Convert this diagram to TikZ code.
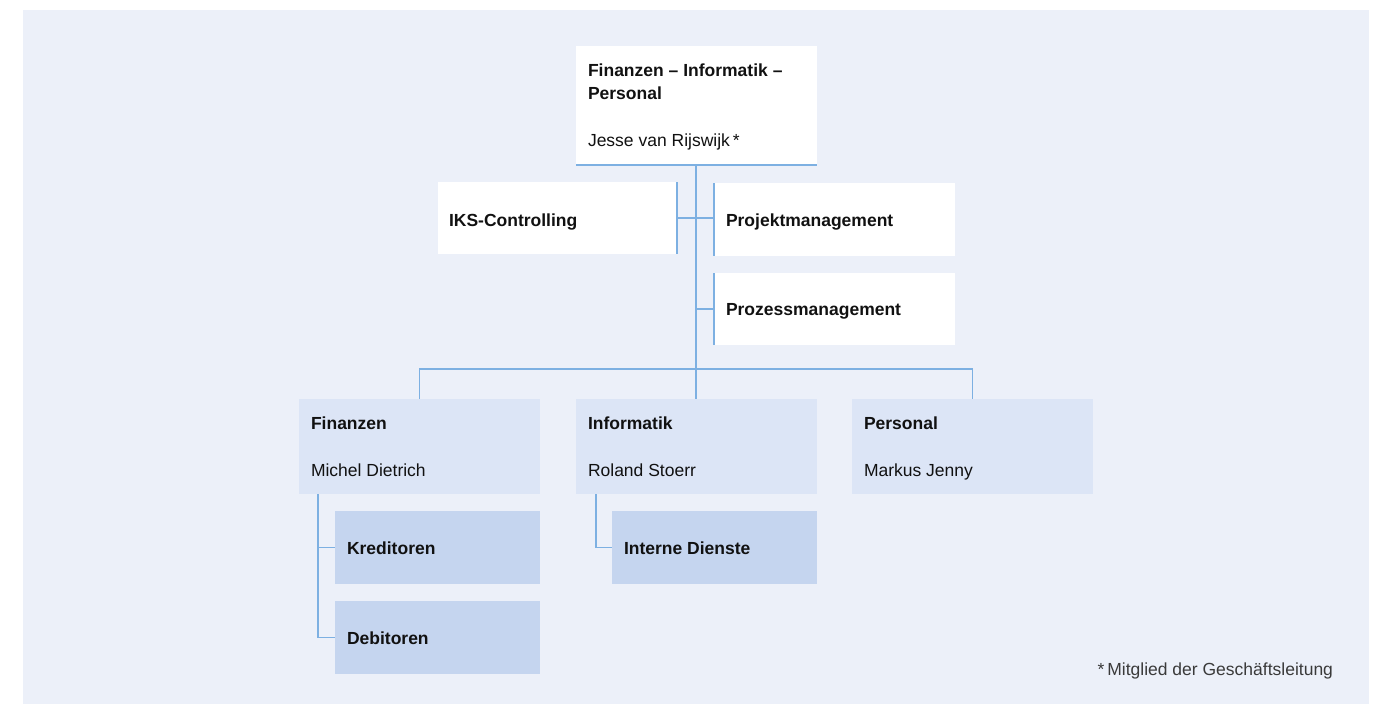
\documentclass[tikz,border=0pt]{standalone}
\usepackage{fontspec}
\setmainfont{Liberation Sans}
\definecolor{bgc}{HTML}{ECF0F9}
\definecolor{lvA}{HTML}{DCE5F6}
\definecolor{lvB}{HTML}{C5D5EF}
\definecolor{lnc}{HTML}{7DB0E2}
\definecolor{txc}{HTML}{111111}
\definecolor{ftc}{HTML}{3A3A3A}
\begin{document}
\begin{tikzpicture}[x=1pt,y=-1pt,
  box/.style={rectangle, draw=none, inner sep=0pt, outer sep=0pt, anchor=north west},
  lbl/.style={inner sep=0pt, outer sep=0pt, anchor=base west, text=txc, font=\fontsize{17.5}{21}\selectfont},
  conn/.style={draw=lnc, line width=1.6pt}]
\useasboundingbox (0,0) rectangle (1386,704);
\fill[bgc] (23,10) rectangle (1369,704);

% boxes
\node[box, fill=white, minimum width=241pt, minimum height=119pt] (top) at (576,46) {};
\node[box, fill=white, minimum width=239pt, minimum height=72pt] (iks) at (438,182) {};
\node[box, fill=white, minimum width=241pt, minimum height=73pt] (proj) at (714,183) {};
\node[box, fill=white, minimum width=241pt, minimum height=72pt] (proz) at (714,273) {};
\node[box, fill=lvA, minimum width=241pt, minimum height=95pt] (fin) at (299,399) {};
\node[box, fill=lvA, minimum width=241pt, minimum height=95pt] (inf) at (576,399) {};
\node[box, fill=lvA, minimum width=241pt, minimum height=95pt] (per) at (852,399) {};
\node[box, fill=lvB, minimum width=205pt, minimum height=73pt] (kred) at (335,511) {};
\node[box, fill=lvB, minimum width=205pt, minimum height=73pt] (deb) at (335,601) {};
\node[box, fill=lvB, minimum width=205pt, minimum height=73pt] (int) at (612,511) {};

% labels
\node[lbl] (topA) at (588,76) {\bfseries Finanzen – Informatik –};
\node[lbl] (topB) at (588,99) {\bfseries Personal};
\node[lbl] (topC) at (588,146) {Jesse van Rijswijk\,*};
\node[lbl] (iksT) at (449,226) {\bfseries IKS-Controlling};
\node[lbl] (projT) at (726,226) {\bfseries Projektmanagement};
\node[lbl] (prozT) at (726,315) {\bfseries Prozessmanagement};
\node[lbl] (finA) at (311,429) {\bfseries Finanzen};
\node[lbl] (finB) at (311,476) {Michel Dietrich};
\node[lbl] (infA) at (588,429) {\bfseries Informatik};
\node[lbl] (infB) at (588,476) {Roland Stoerr};
\node[lbl] (perA) at (864,429) {\bfseries Personal};
\node[lbl] (perB) at (864,476) {Markus Jenny};
\node[lbl] (kredT) at (347,554) {\bfseries Kreditoren};
\node[lbl] (debT) at (347,644) {\bfseries Debitoren};
\node[lbl] (intT) at (624,554) {\bfseries Interne Dienste};
\node[lbl, anchor=base east, text=ftc] (note) at (1333,675) {*\,Mitglied der Geschäftsleitung};

% connectors
\coordinate (bar) at (696,369);
\draw[conn] (top.south west) -- (top.south east);
\draw[conn] (top.south -| bar) -- (bar);
\draw[conn] (iks.north east) -- (iks.south east);
\draw[conn] (proj.north west) -- (proj.south west);
\draw[conn] (proz.north west) -- (proz.south west);
\draw[conn] (iks.east) -- (iks.east -| proj.west);
\draw[conn] (proz.west -| bar) -- (proz.west);
\draw[conn] (fin.north) -- (fin.north |- bar) -- (per.north |- bar) -- (per.north);
\draw[conn] (bar) -- (inf.north -| bar);
\coordinate (fx) at (318,494);
\draw[conn] (fx) |- (deb.west);
\draw[conn] (fx |- kred.west) -- (kred.west);
\coordinate (ix) at (596,494);
\draw[conn] (ix) |- (int.west);
\end{tikzpicture}
\end{document}
